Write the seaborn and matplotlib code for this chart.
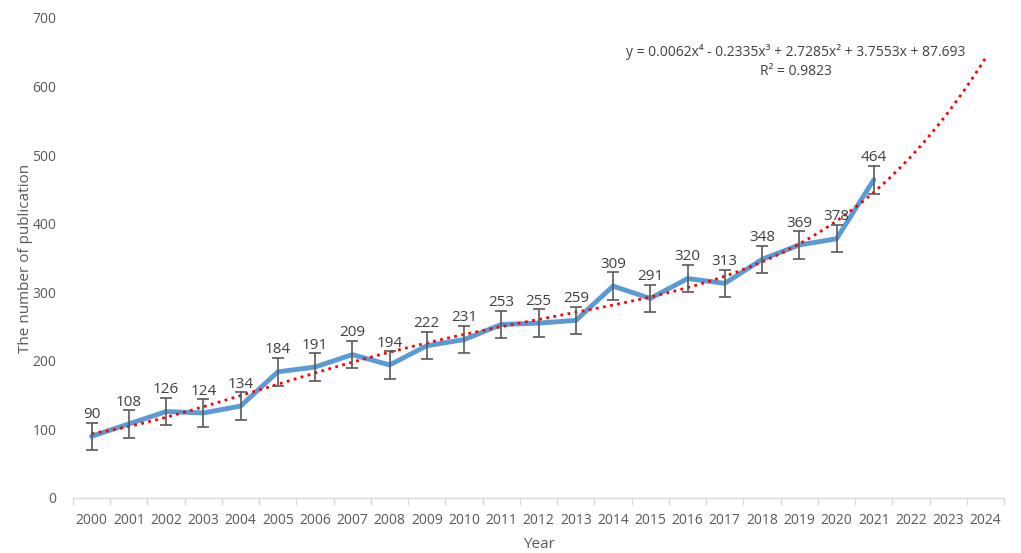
import matplotlib
matplotlib.use('Agg')
import matplotlib.pyplot as plt
import seaborn as sns
import numpy as np
import pandas as pd

years = list(range(2000, 2025))
obs_years = list(range(2000, 2022))
publications = [90, 108, 126, 124, 134, 184, 191, 209, 194, 222, 231,
                253, 255, 259, 309, 291, 320, 313, 348, 369, 378, 464]
error = 20

sns.set_theme(style="white")
plt.rcParams['font.family'] = ['Open Sans', 'DejaVu Sans']
text_color = '#595959'

data = pd.DataFrame({'pos': np.arange(len(obs_years)), 'count': publications})

fig = plt.figure(figsize=(10.21, 5.53), dpi=100)
ax = fig.add_axes([0.0715, 0.0995, 0.912, 0.868])

# polynomial trend (order 4), x = 1 for 2000, extended to 2024
x_fit = data['pos'].values + 1
coef = np.polyfit(x_fit, data['count'].values, 4)
trend_pos = np.linspace(0, len(years) - 1, 300)
trend = pd.DataFrame({'pos': trend_pos, 'val': np.polyval(coef, trend_pos + 1)})

sns.lineplot(data=data, x='pos', y='count', ax=ax, color='#5B9BD5', lw=3.5, zorder=2)
sns.lineplot(data=trend, x='pos', y='val', ax=ax, color='#FF0000', lw=2,
             linestyle=(0, (1, 1.6)), zorder=3)
ax.errorbar(data['pos'], data['count'], yerr=error, fmt='none', ecolor='#595959',
            elinewidth=1.2, capsize=4, capthick=1.2, zorder=4)

for p, v in zip(data['pos'], data['count']):
    ax.text(p, v + error + 1, str(v), ha='center', va='bottom', fontsize=11,
            color='#404040', zorder=5)

ax.text(0.776, 0.929, "y = 0.0062x\u2074 - 0.2335x\u00b3 + 2.7285x\u00b2 + 3.7553x + 87.693",
        transform=ax.transAxes, ha='center', va='center', fontsize=10, color='#404040')
ax.text(0.776, 0.888, "R\u00b2 = 0.9823", transform=ax.transAxes, ha='center', va='center',
        fontsize=10, color='#404040')

ax.set_xlim(-0.5, len(years) - 0.5)
ax.set_ylim(0, 700)
ax.set_yticks(range(0, 701, 100))
ax.set_xticks(range(len(years)))
ax.set_xticklabels([str(y) for y in years])
ax.set_xticks(np.arange(-0.5, len(years), 1), minor=True)
ax.tick_params(axis='x', which='major', length=0, pad=11, labelsize=10, colors=text_color)
ax.tick_params(axis='x', which='minor', length=5, color='#D9D9D9', width=1, bottom=True)
ax.tick_params(axis='y', length=0, pad=12, labelsize=10, colors=text_color)

for s in ['top', 'right', 'left']:
    ax.spines[s].set_visible(False)
ax.spines['bottom'].set_color('#D9D9D9')
ax.spines['bottom'].set_linewidth(1)

ax.set_xlabel("Year", fontsize=11, color=text_color, labelpad=6)
ax.set_ylabel("The number of publication", fontsize=11, color=text_color)
ax.yaxis.set_label_coords(-0.043, 0.5)

fig.savefig("out.png", dpi=100)
plt.close(fig)
